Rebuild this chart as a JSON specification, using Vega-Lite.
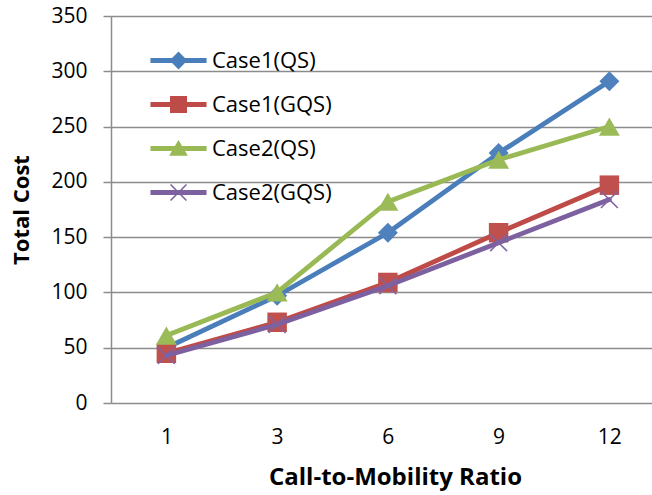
{
  "$schema": "https://vega.github.io/schema/vega-lite/v6.json",
  "width": 541,
  "height": 387,
  "autosize": "none",
  "padding": {"left": 111, "top": 16, "right": 0, "bottom": 92},
  "background": "white",
  "config": {"view": {"stroke": null}, "font": "Open Sans"},
  "data": {
    "values": [
      {"series": "Case1(QS)", "ratio": 1, "cost": 50},
      {"series": "Case1(QS)", "ratio": 3, "cost": 97},
      {"series": "Case1(QS)", "ratio": 6, "cost": 154},
      {"series": "Case1(QS)", "ratio": 9, "cost": 226},
      {"series": "Case1(QS)", "ratio": 12, "cost": 291},
      {"series": "Case1(GQS)", "ratio": 1, "cost": 45},
      {"series": "Case1(GQS)", "ratio": 3, "cost": 73},
      {"series": "Case1(GQS)", "ratio": 6, "cost": 109},
      {"series": "Case1(GQS)", "ratio": 9, "cost": 154},
      {"series": "Case1(GQS)", "ratio": 12, "cost": 197},
      {"series": "Case2(QS)", "ratio": 1, "cost": 61},
      {"series": "Case2(QS)", "ratio": 3, "cost": 100},
      {"series": "Case2(QS)", "ratio": 6, "cost": 182},
      {"series": "Case2(QS)", "ratio": 9, "cost": 220},
      {"series": "Case2(QS)", "ratio": 12, "cost": 250},
      {"series": "Case2(GQS)", "ratio": 1, "cost": 43},
      {"series": "Case2(GQS)", "ratio": 3, "cost": 71},
      {"series": "Case2(GQS)", "ratio": 6, "cost": 106},
      {"series": "Case2(GQS)", "ratio": 9, "cost": 145},
      {"series": "Case2(GQS)", "ratio": 12, "cost": 184}
    ]
  },
  "encoding": {
    "x": {
      "field": "ratio",
      "type": "ordinal",
      "sort": "ascending",
      "scale": {"type": "point", "padding": 0.4425, "align": 0.565},
      "axis": {
        "title": "Call-to-Mobility Ratio",
        "labelAngle": 0,
        "ticks": false,
        "domain": false,
        "grid": false,
        "labelFontSize": 21,
        "labelPadding": 23,
        "labelColor": "black",
        "titleFontSize": 24,
        "titleFontWeight": "bold",
        "titleColor": "black",
        "titlePadding": 18,
        "titleX": 284
      }
    },
    "y": {
      "field": "cost",
      "type": "quantitative",
      "scale": {"domain": [0, 350], "nice": false},
      "axis": {
        "title": "Total Cost",
        "values": [0, 50, 100, 150, 200, 250, 300, 350],
        "grid": true,
        "gridColor": "#8c8c8c",
        "gridWidth": 1.5,
        "domainColor": "#8c8c8c",
        "domainWidth": 1.5,
        "tickColor": "#8c8c8c",
        "tickWidth": 1.5,
        "tickSize": 8,
        "labelFontSize": 21,
        "labelPadding": 16,
        "labelColor": "black",
        "titleFontSize": 22,
        "titleFontWeight": "bold",
        "titleColor": "black",
        "titlePadding": 17
      }
    }
  },
  "layer": [
    {
      "transform": [{"filter": "datum.series === 'Case1(QS)'"}],
      "mark": {"type": "line", "strokeWidth": 4.8, "strokeCap": "round", "strokeJoin": "round", "color": "#4A7EBB"},
      "encoding": {}
    },
    {
      "transform": [{"filter": "datum.series === 'Case1(QS)'"}],
      "mark": {"type": "point", "shape": "diamond", "filled": true, "size": 400, "color": "#4F81BD", "opacity": 1}
    },
    {
      "transform": [{"filter": "datum.series === 'Case1(GQS)'"}],
      "mark": {"type": "line", "strokeWidth": 4.8, "strokeCap": "round", "strokeJoin": "round", "color": "#BE4B48"},
      "encoding": {}
    },
    {
      "transform": [{"filter": "datum.series === 'Case1(GQS)'"}],
      "mark": {"type": "point", "shape": "square", "filled": true, "size": 380, "color": "#C0504D", "opacity": 1}
    },
    {
      "transform": [{"filter": "datum.series === 'Case2(QS)'"}],
      "mark": {"type": "line", "strokeWidth": 4.8, "strokeCap": "round", "strokeJoin": "round", "color": "#98B954"},
      "encoding": {}
    },
    {
      "transform": [{"filter": "datum.series === 'Case2(QS)'"}],
      "mark": {"type": "point", "shape": "triangle-up", "filled": true, "size": 440, "color": "#9BBB59", "opacity": 1}
    },
    {
      "transform": [{"filter": "datum.series === 'Case2(GQS)'"}],
      "mark": {"type": "line", "strokeWidth": 4.8, "strokeCap": "round", "strokeJoin": "round", "color": "#7D60A0"},
      "encoding": {}
    },
    {
      "transform": [{"filter": "datum.series === 'Case2(GQS)'"}],
      "mark": {"type": "point", "shape": "M-1,-0.88L-0.88,-1L0,-0.12L0.88,-1L1,-0.88L0.12,0L1,0.88L0.88,1L0,0.12L-0.88,1L-1,0.88L-0.12,0Z", "filled": true, "size": 324, "color": "#8064A2", "opacity": 1}
    },
    {
      "transform": [{"filter": "false"}],
      "mark": {"type": "point", "filled": true, "opacity": 1},
      "encoding": {
        "color": {
          "field": "series",
          "type": "nominal",
          "scale": {
            "domain": ["Case1(QS)", "Case1(GQS)", "Case2(QS)", "Case2(GQS)"],
            "range": ["#4A7EBB", "#BE4B48", "#98B954", "#7D60A0"]
          },
          "legend": {
            "title": null,
            "orient": "none",
            "legendX": 56.5,
            "legendY": 33.5,
            "padding": 0,
            "symbolSize": 289,
            "symbolStrokeWidth": 0,
            "symbolOpacity": 1,
            "labelFontSize": 22,
            "labelFont": "Open Sans",
            "labelColor": "black",
            "labelOffset": 22.5,
            "rowPadding": 22
          }
        },
        "shape": {
          "field": "series",
          "type": "nominal",
          "scale": {
            "domain": ["Case1(QS)", "Case1(GQS)", "Case2(QS)", "Case2(GQS)"],
            "range": [
              "M-3.3,-0.28H3.3V0.28H-3.3Z M0,-1.05L1.05,0L0,1.05L-1.05,0Z",
              "M-3.3,-0.28H3.3V0.28H-3.3Z M-1,-1H1V1H-1Z",
              "M-3.3,-0.28H3.3V0.28H-3.3Z M0,-1L1.1,0.85H-1.1Z",
              "M-3.3,-0.28H3.3V0.28H-3.3Z M-1,-0.87L-0.87,-1L0,-0.13L0.87,-1L1,-0.87L0.13,0L1,0.87L0.87,1L0,0.13L-0.87,1L-1,0.87L-0.13,0Z"
            ]
          },
          "legend": {
            "title": null,
            "orient": "none",
            "legendX": 56.5,
            "legendY": 33.5,
            "padding": 0,
            "symbolSize": 289,
            "symbolStrokeWidth": 0,
            "symbolOpacity": 1,
            "labelFontSize": 22,
            "labelFont": "Open Sans",
            "labelColor": "black",
            "labelOffset": 22.5,
            "rowPadding": 22
          }
        }
      }
    }
  ]
}
